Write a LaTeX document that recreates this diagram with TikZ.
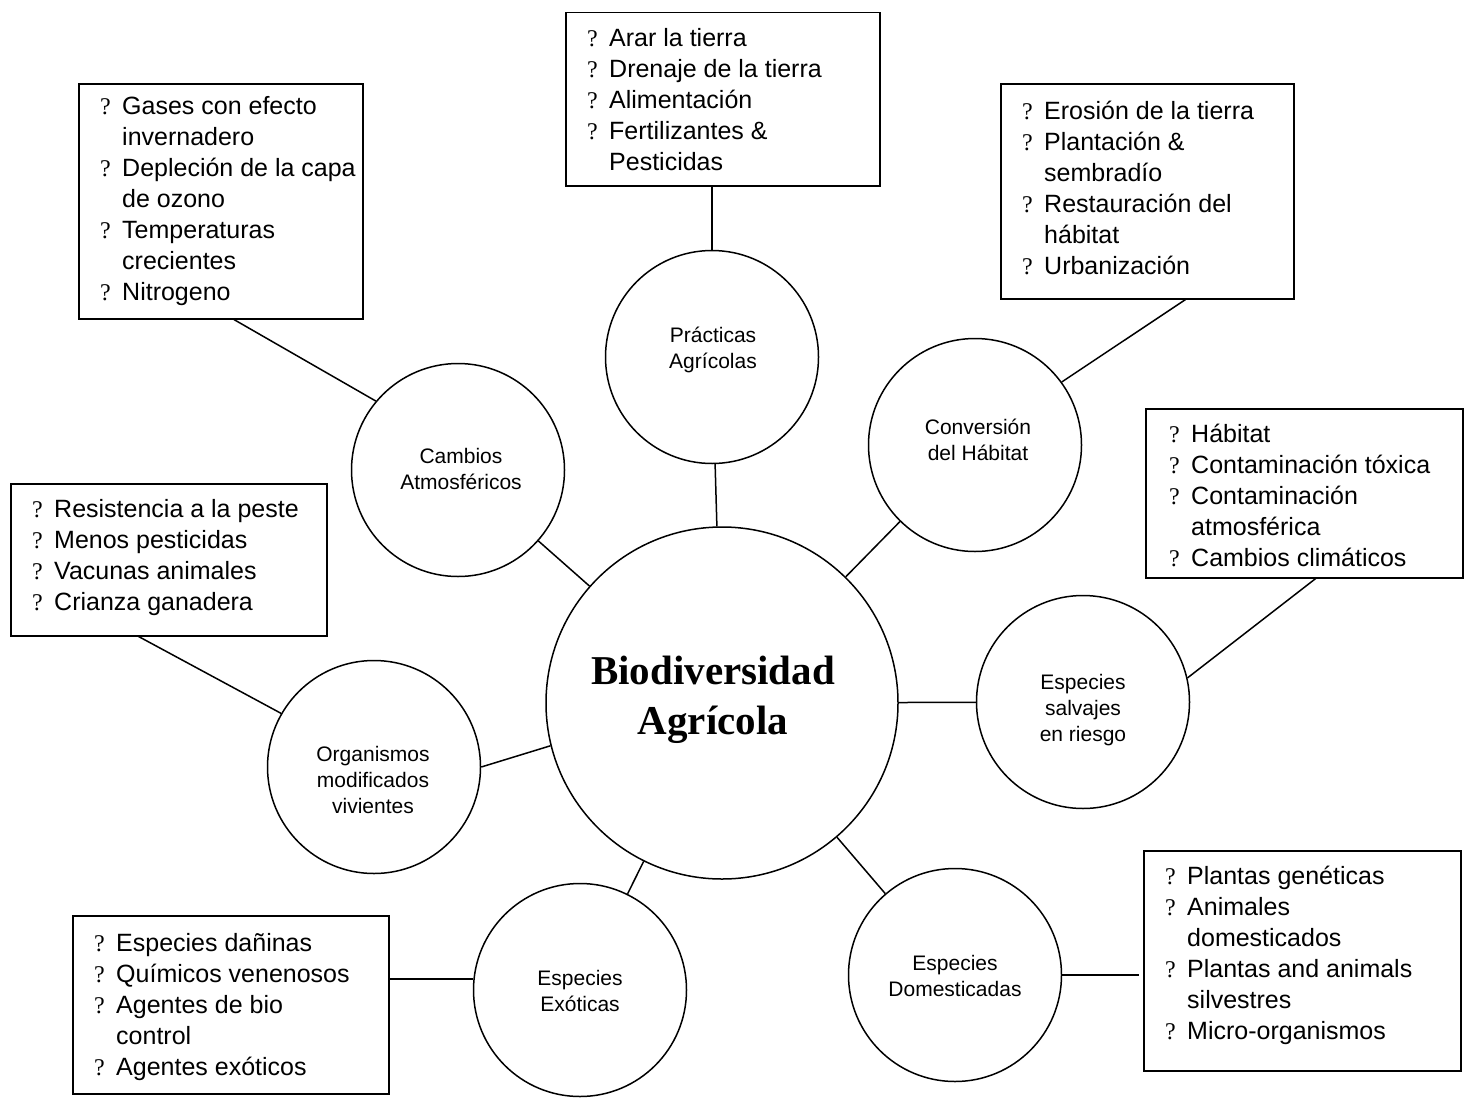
\documentclass[tikz,border=0pt]{standalone}
\usepackage{fontspec}
\setmainfont{Liberation Sans}
\newfontfamily\serifq{Liberation Serif}
\usetikzlibrary{calc}
\newcommand{\bq}{\makebox[23pt][l]{\hspace*{1pt}\fontsize{24}{24}\selectfont\serifq ?}}
\newcommand{\bi}{\hspace*{23pt}}
\begin{document}
\begin{tikzpicture}[x=1pt,y=-1pt,
  circ/.style={draw, circle, line width=1.5pt, minimum size=213pt, inner sep=0pt},
  ctext/.style={align=center, inner sep=0pt, font=\fontsize{21}{26}\selectfont},
  bx/.style={draw, line width=1.5pt, anchor=north west, inner sep=0pt},
  bxt/.style={anchor=west, align=left, inner sep=0pt, font=\fontsize{25}{31}\selectfont},
  con/.style={line width=1.5pt}]
\useasboundingbox (0,0) rectangle (1471,1108);

% central
\node[draw, circle, line width=1.5pt, minimum size=352pt, inner sep=0pt] (bio) at (722,703) {};
\node[align=center, inner sep=0pt, font=\fontsize{41}{50}\selectfont\serifq\bfseries] (biot) at (713,700) {Biodiversidad\\Agrícola};

% circles
\node[circ] (prac) at (712,357) {};
\node[ctext] (pract) at (713,350) {Prácticas\\Agrícolas};
\node[circ] (catm) at (458,470) {};
\node[ctext] (catmt) at (461,469) {Cambios\\Atmosféricos};
\node[circ] (conv) at (975,445) {};
\node[ctext] (convt) at (978,440) {Conversión\\del Hábitat};
\node[circ] (salv) at (1083,702) {};
\node[ctext] (salvt) at (1083,710) {Especies\\salvajes\\en riesgo};
\node[circ] (org) at (374,767) {};
\node[ctext] (orgt) at (373,780) {Organismos\\modificados\\vivientes};
\node[circ] (exo) at (580,990) {};
\node[ctext] (exot) at (580,991) {Especies\\Exóticas};
\node[circ] (dom) at (955,975) {};
\node[ctext] (domt) at (955,976) {Especies\\Domesticadas};

% boxes
\node[bx, minimum width=314pt, minimum height=173pt] (pbox) at (565,12) {};
\node[bxt] (pboxt) at ($(pbox.west)+(21,0)$) {\bq Arar la tierra\\
\bq Drenaje de la tierra\\
\bq Alimentación\\
\bq Fertilizantes \&\\
\bi Pesticidas};

\node[bx, minimum width=284pt, minimum height=235pt] (cbox) at (78,83) {};
\node[bxt] (cboxt) at ($(cbox.west)+(21,0)$) {\bq Gases con efecto\\
\bi invernadero\\
\bq Depleción de la capa\\
\bi de ozono\\
\bq Temperaturas\\
\bi crecientes\\
\bq Nitrogeno};

\node[bx, minimum width=293pt, minimum height=215pt] (vbox) at (1000,83) {};
\node[bxt] (vboxt) at ($(vbox.west)+(21,-3)$) {\bq Erosión de la tierra\\
\bq Plantación \&\\
\bi sembradío\\
\bq Restauración del\\
\bi hábitat\\
\bq Urbanización};

\node[bx, minimum width=317pt, minimum height=169pt] (sbox) at (1145,408) {};
\node[bxt] (sboxt) at ($(sbox.west)+(23,2)$) {\bq Hábitat\\
\bq Contaminación tóxica\\
\bq Contaminación\\
\bi atmosférica\\
\bq Cambios climáticos};

\node[bx, minimum width=316pt, minimum height=152pt] (obox) at (10,483) {};
\node[bxt] (oboxt) at ($(obox.west)+(21,-2)$) {\bq Resistencia a la peste\\
\bq Menos pesticidas\\
\bq Vacunas animales\\
\bq Crianza ganadera};

\node[bx, minimum width=316pt, minimum height=178pt] (ebox) at (72,915) {};
\node[bxt] (eboxt) at ($(ebox.west)+(21,2)$) {\bq Especies dañinas\\
\bq Químicos venenosos\\
\bq Agentes de bio\\
\bi control\\
\bq Agentes exóticos};

\node[bx, minimum width=317pt, minimum height=220pt] (dbox) at (1143,850) {};
\node[bxt] (dboxt) at ($(dbox.west)+(21,-5)$) {\bq Plantas genéticas\\
\bq Animales\\
\bi domesticados\\
\bq Plantas and animals\\
\bi silvestres\\
\bq Micro-organismos};

% connectors
\draw[con] (prac.north) -- (prac.north |- pbox.south);
\draw[con] (prac) -- (bio);
\draw[con] ($(cbox.south west)!0.546!(cbox.south east)$) -- (catm.140);
\draw[con] (catm) -- (bio);
\draw[con] ($(vbox.south west)!0.63!(vbox.south east)$) -- (conv.36);
\draw[con] (conv) -- (bio);
\draw[con] ($(sbox.south west)!0.536!(sbox.south east)$) -- (salv.13);
\draw[con] (salv) -- (bio);
\draw[con] ($(obox.south west)!0.405!(obox.south east)$) -- (org.150);
\draw[con] (org.east) -- (bio.194);
\draw[con] (exo.174) -- (exo.174 -| ebox.east);
\draw[con] (exo) -- (bio);
\draw[con, shorten >=4pt] (dom.east) -- (dom.east -| dbox.west);
\draw[con] (dom) -- (bio);
\end{tikzpicture}
\end{document}
